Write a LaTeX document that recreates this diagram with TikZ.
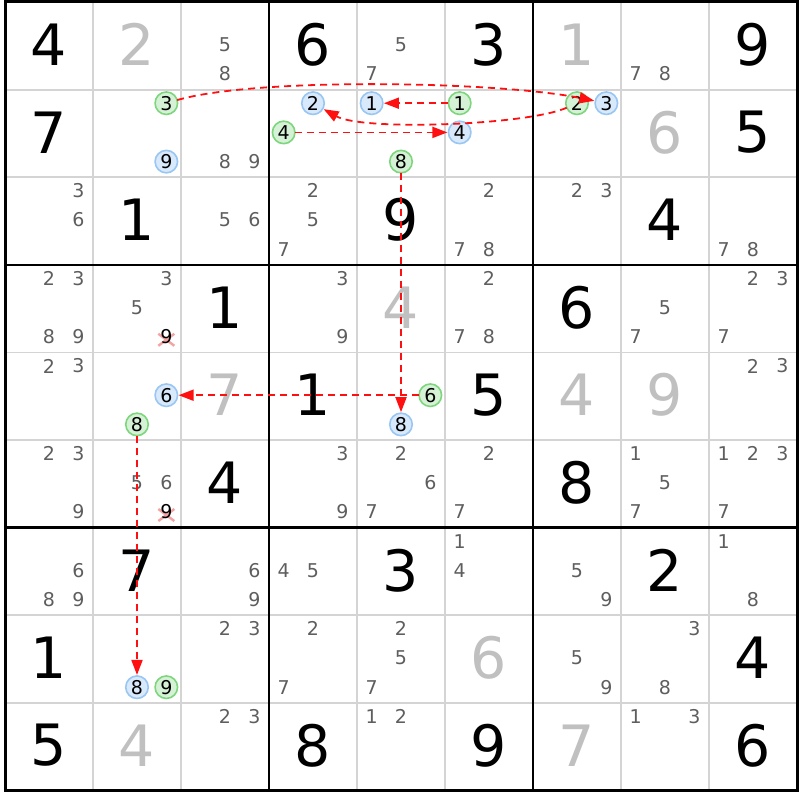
\documentclass[tikz,border=0pt]{standalone}
\usepackage{fontspec}
\setmainfont{DejaVu Sans}
\usetikzlibrary{arrows.meta}
\definecolor{candc}{HTML}{5E5E5E}
\definecolor{solvc}{HTML}{C0C0C0}
\definecolor{gridc}{HTML}{D4D4D4}
\definecolor{gfill}{HTML}{D6F2D6}
\definecolor{gline}{HTML}{7DD67D}
\definecolor{bfill}{HTML}{D8E9FB}
\definecolor{bline}{HTML}{99C6F2}
\definecolor{xred}{HTML}{F4A3A3}
\definecolor{arr}{HTML}{FF1010}
\tikzset{
 givenst/.style={font=\fontsize{57}{57}\selectfont, text=black, inner sep=0pt, outer sep=0pt},
 solvst/.style={givenst, text=solvc},
 cnd/.style={font=\fontsize{19}{19}\selectfont, text=candc, inner sep=0pt},
 hlg/.style={circle, draw=gline, fill=gfill, line width=1.6pt, minimum size=22.5pt, inner sep=0pt, outer sep=0pt, font=\fontsize{19}{19}\selectfont, text=black},
 hlb/.style={hlg, draw=bline, fill=bfill},
 thinline/.style={draw=gridc, line width=1.8pt},
 thickline/.style={draw=black, line width=2.6pt},
 link/.style={draw=arr, line width=1.8pt, dash pattern=on 7pt off 5pt, -{Triangle[length=15pt,width=11pt]}, shorten >=1pt},
 xmark/.style={draw=xred, line width=2.4pt}
}
\newcommand\dopos[3]{%
 \pgfmathsetmacro\px{5+88*(#2-0.5)+29.33*(mod(#3-1,3)-1)}%
 \pgfmathsetmacro\py{1+87.6*(#1-0.5)+29.2*(floor((#3-1)/3)-1)}}
\newcommand\cands[3]{\foreach \dd in {#3}{\dopos{#1}{#2}{\dd}\node[cnd] (k#1#2\dd) at (\px,\py) {\dd};}}
\newcommand\gv[3]{\node[givenst] (v#1#2) at ({5+88*(#2-0.5)},{1+87.6*(#1-0.5)}) {#3};}
\newcommand\sv[3]{\node[solvst] (v#1#2) at ({5+88*(#2-0.5)},{1+87.6*(#1-0.5)}) {#3};}
\newcommand\hl[5]{\dopos{#3}{#4}{#5}\node[#1] (#2) at (\px,\py) {#5};}
\newcommand\crossd[3]{\dopos{#1}{#2}{#3}%
 \draw[xmark] (\px-8,\py-3) -- (\px+8,\py+9) (\px+8,\py-3) -- (\px-8,\py+9);
 \node[cnd,text=black] (k#1#2#3) at (\px,\py) {#3};}
\begin{document}
\begin{tikzpicture}[x=1pt,y=-1pt]
\useasboundingbox (0,0) rectangle (800,800);
\fill[white] (0,0) rectangle (800,800);
% grid
\foreach \i in {1,2,4,5,7,8}{
 \draw[thinline] ({5+88*\i},2) -- ({5+88*\i},790.4);
 \draw[thinline] (5,{2+87.6*\i}) -- (797,{2+87.6*\i});
}
\foreach \i in {3,6}{
 \draw[thickline] ({5+88*\i},2) -- ({5+88*\i},790.4);
 \draw[thickline] (5,{2+87.6*\i}) -- (797,{2+87.6*\i});
}
\draw[thickline, line width=3pt] (5,2) rectangle (797,790.4);
% givens
\gv{1}{1}{4} \gv{1}{4}{6} \gv{1}{6}{3} \gv{1}{9}{9}
\gv{2}{1}{7} \gv{2}{9}{5}
\gv{3}{2}{1} \gv{3}{5}{9} \gv{3}{8}{4}
\gv{4}{3}{1} \gv{4}{7}{6}
\gv{5}{4}{1} \gv{5}{6}{5}
\gv{6}{3}{4} \gv{6}{7}{8}
\gv{7}{2}{7} \gv{7}{5}{3} \gv{7}{8}{2}
\gv{8}{1}{1} \gv{8}{9}{4}
\gv{9}{1}{5} \gv{9}{4}{8} \gv{9}{6}{9} \gv{9}{9}{6}
% solved
\sv{1}{2}{2} \sv{1}{7}{1}
\sv{2}{8}{6}
\sv{4}{5}{4}
\sv{5}{3}{7} \sv{5}{7}{4} \sv{5}{8}{9}
\sv{8}{6}{6}
\sv{9}{2}{4} \sv{9}{7}{7}
% candidates
\cands{1}{3}{5,8} \cands{1}{5}{5,7} \cands{1}{8}{7,8}
\cands{2}{3}{8,9}
\cands{3}{1}{3,6} \cands{3}{3}{5,6} \cands{3}{4}{2,5,7} \cands{3}{6}{2,7,8} \cands{3}{7}{2,3} \cands{3}{9}{7,8}
\cands{4}{1}{2,3,8,9} \cands{4}{2}{3,5} \cands{4}{4}{3,9} \cands{4}{6}{2,7,8} \cands{4}{8}{5,7} \cands{4}{9}{2,3,7}
\cands{5}{1}{2,3} \cands{5}{9}{2,3}
\cands{6}{1}{2,3,9} \cands{6}{2}{5,6} \cands{6}{4}{3,9} \cands{6}{5}{2,6,7} \cands{6}{6}{2,7} \cands{6}{8}{1,5,7} \cands{6}{9}{1,2,3,7}
\cands{7}{1}{6,8,9} \cands{7}{3}{6,9} \cands{7}{4}{4,5} \cands{7}{6}{1,4} \cands{7}{7}{5,9} \cands{7}{9}{1,8}
\cands{8}{3}{2,3} \cands{8}{4}{2,7} \cands{8}{5}{2,5,7} \cands{8}{7}{5,9} \cands{8}{8}{3,8}
\cands{9}{3}{2,3} \cands{9}{5}{1,2} \cands{9}{8}{1,3}
\crossd{4}{2}{9}
\crossd{6}{2}{9}
% highlighted candidates
\hl{hlg}{g223}{2}{2}{3} \hl{hlb}{b229}{2}{2}{9}
\hl{hlb}{b242}{2}{4}{2} \hl{hlg}{g244}{2}{4}{4}
\hl{hlb}{b251}{2}{5}{1} \hl{hlg}{g258}{2}{5}{8}
\hl{hlg}{g261}{2}{6}{1} \hl{hlb}{b264}{2}{6}{4}
\hl{hlg}{g272}{2}{7}{2} \hl{hlb}{b273}{2}{7}{3}
\hl{hlb}{b526}{5}{2}{6} \hl{hlg}{g528}{5}{2}{8}
\hl{hlg}{g556}{5}{5}{6} \hl{hlb}{b558}{5}{5}{8}
\hl{hlb}{b828}{8}{2}{8} \hl{hlg}{g829}{8}{2}{9}
% links
\draw[link] (g223) .. controls +(90,-26) and +(-110,-22) .. (b273);
\draw[link] (g272) .. controls +(-50,22) and +(50,28) .. (b242);
\draw[link] (g261) -- (b251);
\draw[link] (g244) -- (b264);
\draw[link] (g258) -- (b558);
\draw[link] (g556) -- (b526);
\draw[link] (g528) -- (b828);
\end{tikzpicture}
\end{document}
